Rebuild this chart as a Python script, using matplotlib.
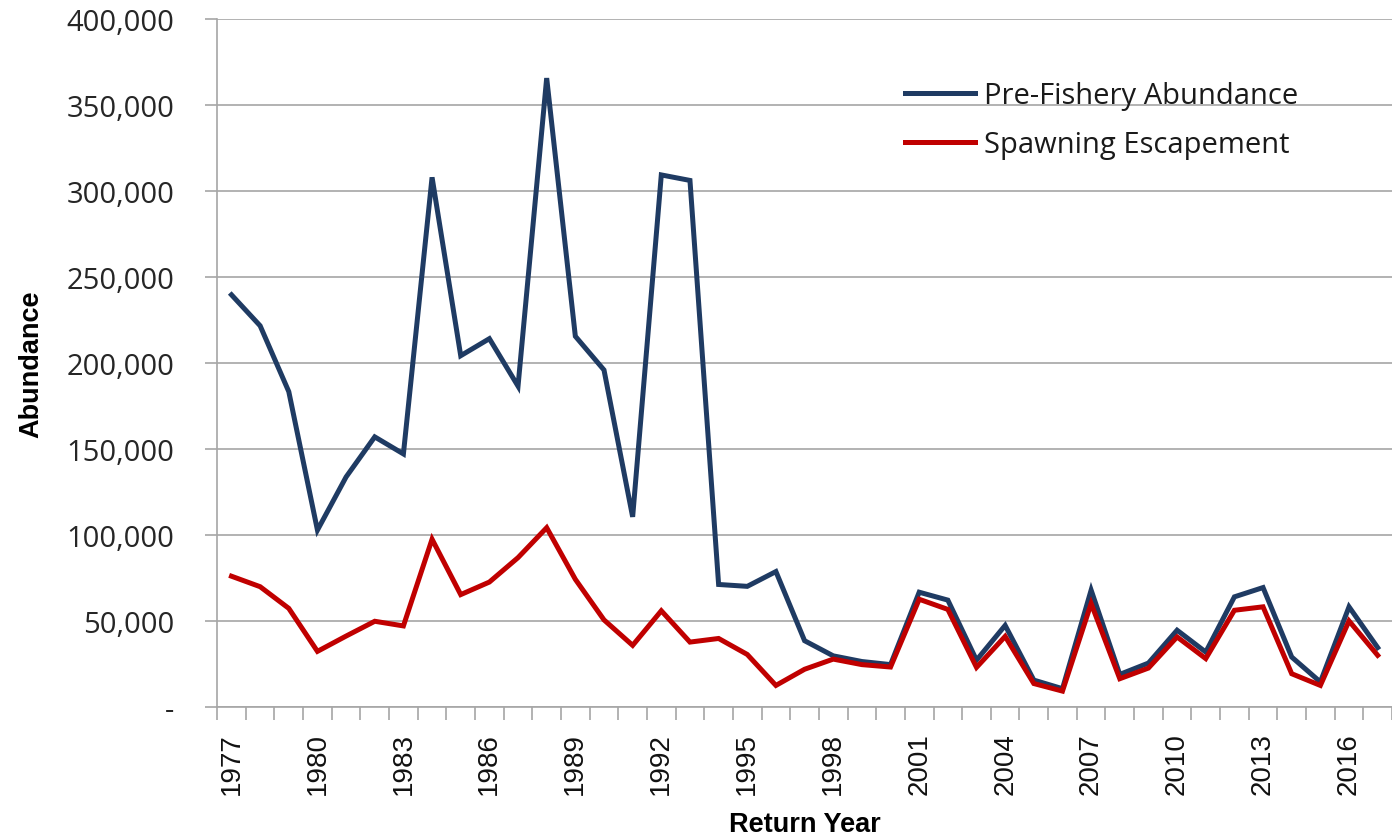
import matplotlib
matplotlib.use("Agg")
import matplotlib.pyplot as plt
from matplotlib.patches import Rectangle
import numpy as np

# return years and the two series
years = list(range(1977, 2018))
pre_fishery = [239700, 221700, 183400, 102900, 133800, 157100, 147200, 308000, 204300, 214200,
               186600, 365700, 215600, 196000, 110600, 309400, 306200, 71300, 70200, 78800,
               38600, 29800, 26500, 24700, 66800, 62200, 27300, 47500, 15700, 10700,
               68000, 19000, 25600, 44700, 32000, 64100, 69500, 29100, 14600, 58300, 34600]
spawning = [76100, 70000, 57400, 32400, 41300, 49900, 47200, 97600, 65400, 72700,
            86900, 104300, 74300, 50700, 35900, 56000, 37800, 39900, 30600, 12600,
            22000, 27900, 24700, 23300, 62700, 56800, 23100, 41100, 13700, 9300,
            60200, 16500, 22700, 40800, 28200, 56300, 58300, 19400, 12600, 50100, 30100]
labels = ["Pre-Fishery Abundance", "Spawning Escapement"]

blue = "#1f3b63"
red = "#c00000"
grid_col = "#a6a6a6"

fig = plt.figure(figsize=(13.92, 8.37), dpi=100)
ax = fig.add_axes([0.156, 0.154, 0.844, 0.822])

ax.plot(years, pre_fishery, color=blue, lw=3.6, label=labels[0], zorder=3, solid_joinstyle="miter")
ax.plot(years, spawning, color=red, lw=3.6, label=labels[1], zorder=3, solid_joinstyle="miter")

ax.set_ylim(0, 400000)
ax.set_xlim(1976.5, 2017.03)

# y axis
ax.set_yticks(np.arange(0, 400001, 50000))
ax.set_yticklabels(["-" if v == 0 else f"{v:,}" for v in range(0, 400001, 50000)],
                   fontsize=21, family="Open Sans", color="#262626")
ax.yaxis.grid(True, color=grid_col, lw=1.2, zorder=0)
ax.tick_params(axis="y", length=9, color=grid_col, width=1.2, pad=22)

# x axis: tick marks between categories, labels every 3 years
ax.set_xticks(years[::3])
ax.set_xticklabels([str(y) for y in years[::3]], rotation=90, fontsize=20,
                   family="Liberation Sans", color="#111111")
ax.set_xticks(np.arange(1976.5, 2018, 1), minor=True)
ax.tick_params(axis="x", which="major", length=0, pad=18)
ax.tick_params(axis="x", which="minor", length=9, color=grid_col, width=1.2)

for s in ["top", "right"]:
    ax.spines[s].set_visible(False)
for s in ["left", "bottom"]:
    ax.spines[s].set_color(grid_col)
    ax.spines[s].set_linewidth(1.2)

ax.set_ylabel("Abundance", fontsize=19.5, fontweight="bold", family="Liberation Sans", labelpad=16)
ax.set_xlabel("Return Year", fontsize=19.5, fontweight="bold", family="Liberation Sans", labelpad=12)

# white legend area that hides the gridline behind it
ax.add_patch(Rectangle((0.537, 0.775), 0.437, 0.167, transform=ax.transAxes,
                       facecolor="white", edgecolor="none", zorder=1))
leg = ax.legend(loc="upper left", bbox_to_anchor=(0.5855, 0.910),
                prop={"family": "Open Sans", "size": 21}, handlelength=2.4,
                frameon=False, borderpad=0, labelspacing=0.7, handletextpad=0.3,
                borderaxespad=0)
for t in leg.get_texts():
    t.set_color("#1a1a1a")

fig.savefig("out.png", dpi=100)
